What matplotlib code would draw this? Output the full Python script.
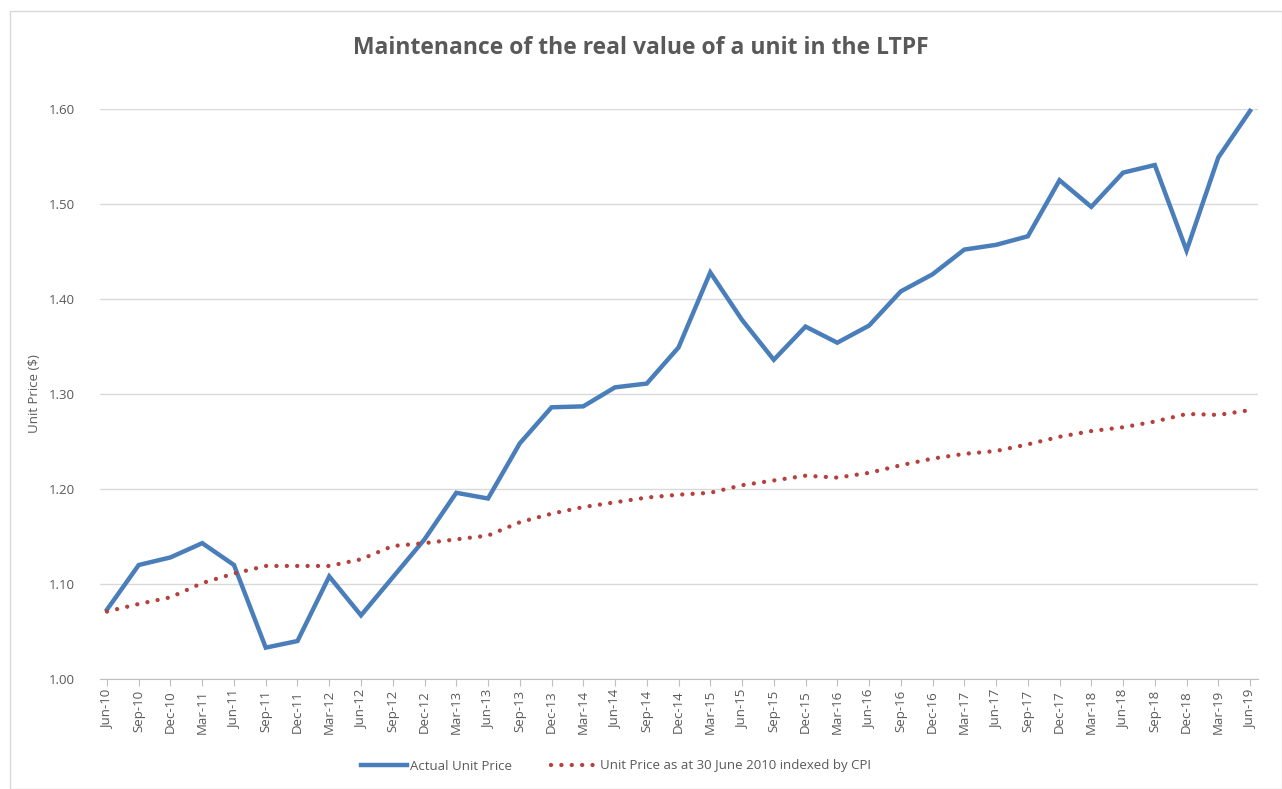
import matplotlib
matplotlib.use("Agg")
import matplotlib.pyplot as plt
from matplotlib.patches import Rectangle

# quarterly labels Jun-10 .. Jun-19
quarters = ["Jun-10", "Sep-10", "Dec-10", "Mar-11", "Jun-11", "Sep-11", "Dec-11", "Mar-12",
            "Jun-12", "Sep-12", "Dec-12", "Mar-13", "Jun-13", "Sep-13", "Dec-13", "Mar-14",
            "Jun-14", "Sep-14", "Dec-14", "Mar-15", "Jun-15", "Sep-15", "Dec-15", "Mar-16",
            "Jun-16", "Sep-16", "Dec-16", "Mar-17", "Jun-17", "Sep-17", "Dec-17", "Mar-18",
            "Jun-18", "Sep-18", "Dec-18", "Mar-19", "Jun-19"]

actual = [1.073, 1.120, 1.128, 1.143, 1.120, 1.033, 1.040, 1.108,
          1.067, 1.107, 1.147, 1.196, 1.190, 1.248, 1.286, 1.287,
          1.307, 1.311, 1.349, 1.428, 1.378, 1.336, 1.371, 1.354,
          1.372, 1.408, 1.426, 1.452, 1.457, 1.466, 1.525, 1.497,
          1.533, 1.541, 1.451, 1.549, 1.598]

cpi_indexed = [1.071, 1.079, 1.086, 1.101, 1.111, 1.119, 1.119, 1.119,
               1.126, 1.140, 1.143, 1.147, 1.151, 1.165, 1.174, 1.181,
               1.186, 1.191, 1.194, 1.196, 1.204, 1.209, 1.214, 1.212,
               1.217, 1.225, 1.232, 1.237, 1.240, 1.247, 1.255, 1.261,
               1.265, 1.271, 1.279, 1.278, 1.283]

yticks = [1.00, 1.10, 1.20, 1.30, 1.40, 1.50, 1.60]

plt.rcParams['font.family'] = ['Open Sans', 'DejaVu Sans']

fig = plt.figure(figsize=(12.82, 7.89), dpi=100)
# light frame around the chart area
fig.patches.append(Rectangle((10 / 1282, 0), 1 - 10 / 1282, 1 - 11 / 789,
                             transform=fig.transFigure, fill=False,
                             edgecolor='#d9d9d9', linewidth=1))

ax = fig.add_axes([100 / 1282, 1 - 679 / 789, 1158 / 1282, 570 / 789])
x = list(range(len(quarters)))

ax.plot(x, actual, color='#4a7ebb', linewidth=3.2, solid_joinstyle='miter',
        label='Actual Unit Price', zorder=3, clip_on=False)
ax.plot(x, cpi_indexed, color='#b5403c', linewidth=3.1, linestyle=(0, (0.01, 2.4)),
        dash_capstyle='round', label='Unit Price as at 30 June 2010 indexed by CPI', zorder=3)

ax.set_xlim(-0.22, len(quarters) - 1 + 0.25)
ax.set_ylim(1.0, 1.6)
ax.set_yticks(yticks)
ax.set_yticklabels([f"{v:.2f}" for v in yticks])
ax.set_xticks(x)
ax.set_xticklabels(quarters, rotation=90)

ax.grid(axis='y', color='#d9d9d9', linewidth=1)
ax.set_axisbelow(True)
for s in ['top', 'right', 'left']:
    ax.spines[s].set_visible(False)
ax.spines['bottom'].set_color('#bfbfbf')
ax.tick_params(axis='y', length=0, pad=18, labelsize=9.5, labelcolor='#595959')
ax.tick_params(axis='x', length=5, color='#bfbfbf', pad=3, labelsize=9.5, labelcolor='#595959')

ax.set_ylabel("Unit Price ($)", fontsize=9.5, color='#595959', labelpad=6)

fig.text(0.5, 1 - 48 / 789, "Maintenance of the real value of a unit in the LTPF",
         ha='center', va='center', fontsize=16.5, fontweight='bold', color='#595959')

fig.legend(loc='center', bbox_to_anchor=(616 / 1282, 1 - 766 / 789), ncol=2,
           frameon=False, fontsize=9.5, labelcolor='#595959', handlelength=3.5,
           handletextpad=0.2, columnspacing=3)

fig.savefig("out.png", dpi=100)
